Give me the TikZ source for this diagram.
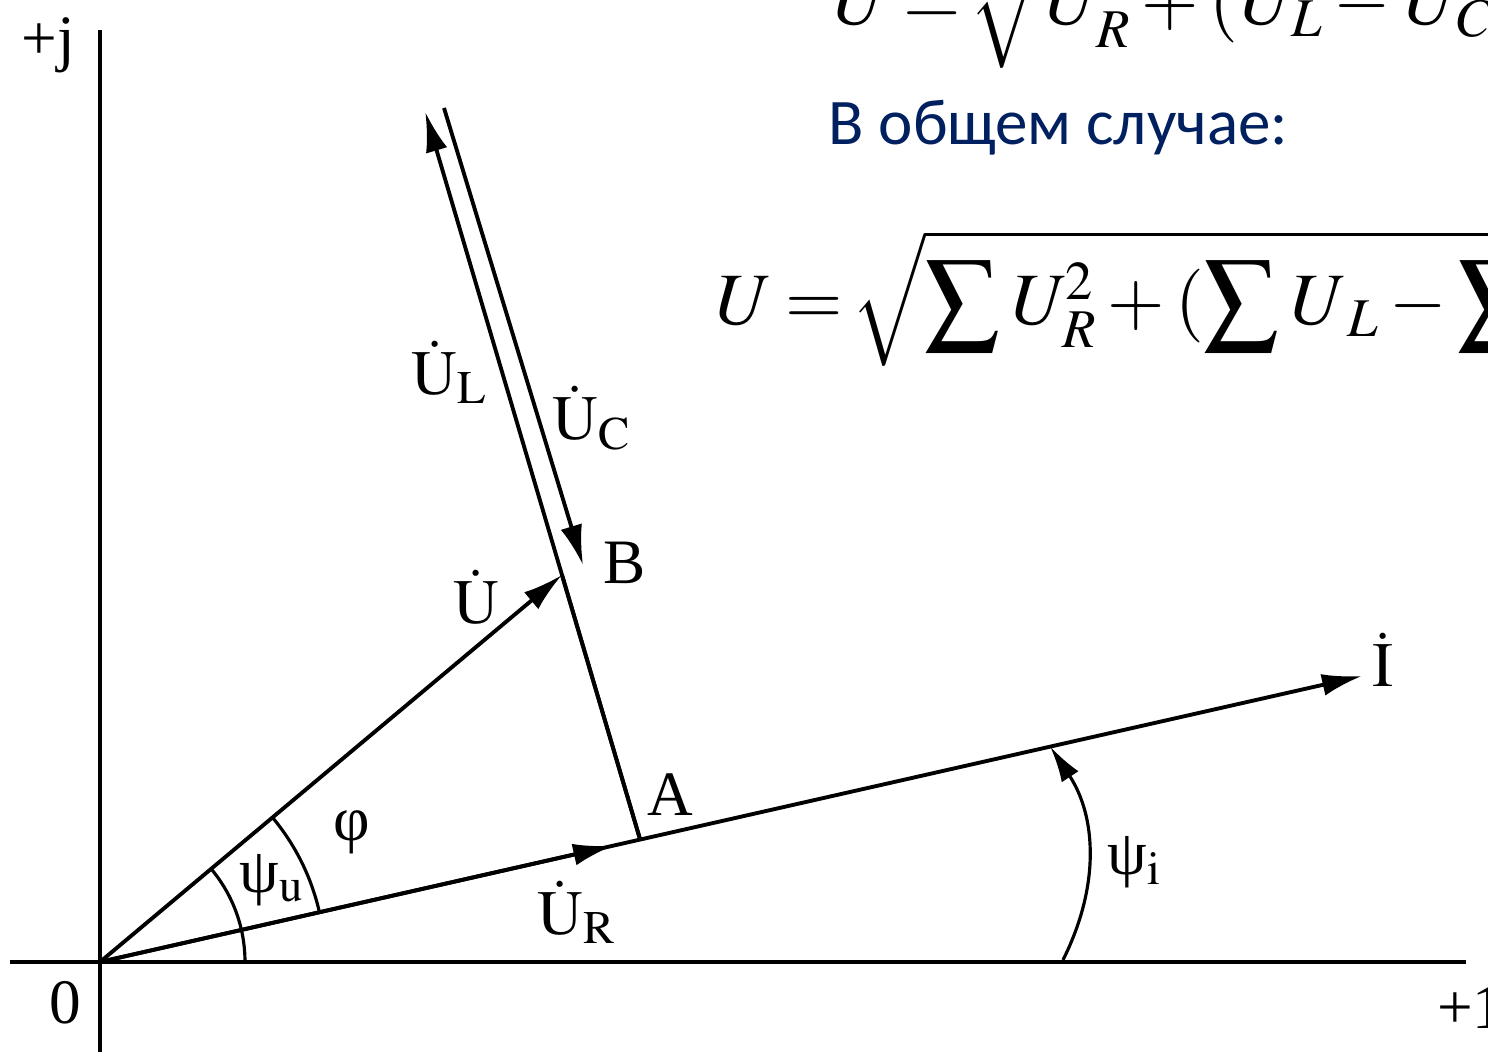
\documentclass[tikz,border=0pt]{standalone}
\usepackage{mathptmx}
\usepackage{fontspec}
\setmainfont{Liberation Serif}
\newfontfamily\slidefont{Carlito}
\usepackage{tikz}
\usetikzlibrary{arrows.meta, positioning, calc}
\definecolor{slideblue}{RGB}{0, 32, 96}
\newcommand{\mU}{\mathit{U}}

\begin{document}
\begin{tikzpicture}[
    x=1cm, y=1cm,
    axis/.style={line width=1.4pt},
    vec/.style={line width=1.1pt, -{Latex[length=4mm, width=2.2mm]}},
    seg/.style={line width=1.1pt},
    angarc/.style={line width=0.9pt},
    lbl/.style={font=\fontsize{18}{20}\selectfont, inner sep=1pt},
    formula/.style={font=\fontsize{21}{25}\selectfont, anchor=base west, inner sep=0pt}
]
\path[use as bounding box, clip] (0,0) rectangle (14.88,10.52);

% Points of the diagram
\coordinate (O) at (1,0.9);
\coordinate (Itip) at (13.62,3.76);
\coordinate (A) at ($(O)!0.428!(Itip)$);
\coordinate (B) at (5.62,4.77);
\coordinate (ULtip) at ($(A)!2.75!(B)$);
\coordinate (UCbeg) at (4.44,9.44);
\coordinate (UCend) at (5.83,4.87);
\coordinate (URtip) at ($(O)!0.95!(A)$);

% Axes
\coordinate (xleft) at (0.1,0.9);
\coordinate (xright) at (14.66,0.9);
\coordinate (ybot) at (1,0);
\coordinate (ytop) at (1,10.22);
\draw[axis] (xleft) -- (xright);
\draw[axis] (ybot) -- (ytop);

% Vectors
\draw[vec] (O) -- (Itip);
\draw[vec] (O) -- (URtip);
\draw[vec] (O) -- (B);
\draw[seg] (A) -- (B);
\draw[vec] (A) -- (ULtip);
\draw[vec] (UCbeg) -- (UCend);

% Angles
\coordinate (psiu) at ($(O)+(1.45,0)$);
\draw[angarc] (psiu) arc[start angle=0, end angle=40, radius=1.45];
\coordinate (phis) at ($(O)+(40:2.25)$);
\draw[angarc] (phis) arc[start angle=40, end angle=12.77, radius=2.25];
\coordinate (psiis) at (10.63,0.92);
\coordinate (psiie) at ($(O)!0.753!(Itip)$);
\draw[angarc, -{Latex[length=3.6mm, width=2mm]}] (psiis) to[bend right=30] (psiie);

% Labels
\node[lbl] (lj) at (0.48,10.07) {+j};
\node[lbl] (l0) at (0.65,0.49) {0};
\node[lbl, anchor=west] (l1) at (14.33,0.44) {+1};
\node[lbl] (lI) at (13.83,3.92) {$\dot{\mathrm{I}}$};
\node[lbl] (lpsii) at (11.35,1.90) {ψ$_{\mathrm{i}}$};
\node[lbl] (lUR) at (5.77,1.40) {$\dot{\mathrm{U}}_{\mathrm{R}}$};
\node[lbl] (lA) at (6.70,2.57) {A};
\node[lbl] (lB) at (6.25,4.89) {B};
\node[lbl] (lU) at (4.76,4.55) {$\dot{\mathrm{U}}$};
\node[lbl] (lUL) at (4.50,6.80) {$\dot{\mathrm{U}}_{\mathrm{L}}$};
\node[lbl] (lUC) at (5.92,6.34) {$\dot{\mathrm{U}}_{\mathrm{C}}$};
\node[lbl] (lphi) at (3.52,2.20) {φ};
\node[lbl] (lpsiu) at (2.72,1.72) {ψ$_{\mathrm{u}}$};

% Formulas
\node[formula] (f1) at (8.30,10.27)
    {$\mU=\mkern-2mu\sqrt{\mU_{\mathit{R}}^2+(\mU_{\mathit{L}}-\mU_{\mathit{C}})^2}$};
\node[anchor=base west, inner sep=0pt, text=slideblue,
      font=\slidefont\fontsize{18.5}{22}\selectfont] (ftxt) at (8.28,9.07) {В общем случае:};
\node[formula] (f2) at (7.12,7.27)
    {$\displaystyle \mU=\mkern-2mu\sqrt{\sum \mU_{\mathit{R}}^2+(\sum \mU_{\,\mathit{L}}-\sum \mU_{\,\mathit{C}})^2}$};

\end{tikzpicture}
\end{document}
